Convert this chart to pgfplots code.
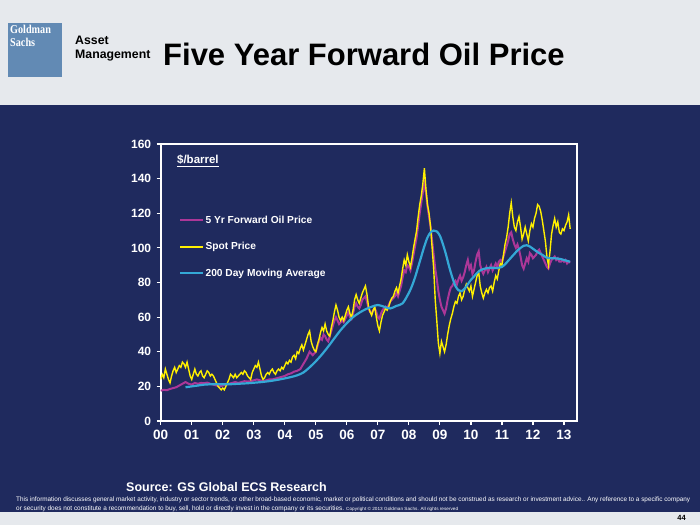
\documentclass[border=0pt]{standalone}
\usepackage{pgfplots}
\pgfplotsset{compat=1.18}
\usepackage{fontspec}
\setmainfont{Liberation Sans}
\newfontfamily\seriffont{Liberation Serif}
\definecolor{navy}{RGB}{31,42,94}
\definecolor{headgray}{RGB}{230,233,237}
\definecolor{gsblue}{RGB}{98,138,180}
\definecolor{spotyellow}{RGB}{255,240,0}
\definecolor{fwdmagenta}{RGB}{172,55,152}
\definecolor{macyan}{RGB}{52,168,214}

\begin{document}
\begin{tikzpicture}[x=1pt,y=1pt]
\path[use as bounding box] (0,0) rectangle (700,525);
\fill[headgray] (0,0) rectangle (700,525);
\fill[navy] (0,13) rectangle (700,420);
% logo and title
\fill[gsblue] (8,448) rectangle (62,502);
\node[anchor=base west, inner sep=0pt, text=white, font=\seriffont\bfseries\fontsize{12}{12}\selectfont] at (10,491.5) {\scalebox{0.85}[1]{Goldman}};
\node[anchor=base west, inner sep=0pt, text=white, font=\seriffont\bfseries\fontsize{12}{12}\selectfont] at (10,478.5) {\scalebox{0.85}[1]{Sachs}};
\node[anchor=base west, inner sep=0pt, font=\bfseries\fontsize{12.3}{13}\selectfont] at (75,480) {Asset};
\node[anchor=base west, inner sep=0pt, font=\bfseries\fontsize{12.3}{13}\selectfont] at (75,466) {Management};
\node[anchor=base west, inner sep=0pt, font=\bfseries\fontsize{31}{32}\selectfont] at (163,459) {Five Year Forward Oil Price};

\begin{axis}[
    at={(160.7pt,104pt)}, anchor=south west, scale only axis,
    width=416.3pt, height=277pt,
    xmin=0, xmax=13.42, ymin=0, ymax=160,
    xtick={0,1,...,13},
    xticklabels={00,01,02,03,04,05,06,07,08,09,10,11,12,13},
    ytick={0,20,...,160},
    axis line style={white, line width=2pt},
    tick style={white, line width=1.2pt},
    tick align=outside, major tick length=4pt, tick pos=left,
    ticklabel style={text=white},
    x tick label style={font=\bfseries\fontsize{13.5}{14}\selectfont, yshift=-2pt},
    y tick label style={font=\bfseries\fontsize{12}{13}\selectfont, xshift=-2pt},
    /pgf/number format/assume math mode=true,
    legend image code/.code={\draw[#1] (0pt,0pt) -- (23pt,0pt);},
    legend cell align=left,
    legend style={at={(0.044,0.745)}, anchor=north west, draw=none, fill=none,
        text=white, font=\bfseries\fontsize{10.2}{12}\selectfont,
        row sep=15.5pt, inner sep=0pt, nodes={inner sep=1pt}},
]
\addlegendimage{fwdmagenta, line width=2.2pt}
\addlegendimage{spotyellow, line width=2pt}
\addlegendimage{macyan, line width=2.4pt}

% 5 Yr forward price
\addplot[fwdmagenta, line width=2pt, forget plot] coordinates {
(0.0,17.5)(0.1,18)(0.2,17.8)(0.3,18.5)(0.4,19)(0.5,19.5)(0.6,20.5)(0.7,21.5)(0.8,22.5)(0.9,21.5)
(1.0,21)(1.1,22)(1.2,21.5)(1.3,22)(1.4,21.8)(1.5,22.2)(1.6,21.5)(1.7,21)(1.8,20.5)(1.9,20)
(2.0,20.5)(2.1,21)(2.2,21.5)(2.3,22)(2.4,22.5)(2.5,22)(2.6,22.5)(2.7,23)(2.8,22.8)(2.9,23)
(3.0,23.5)(3.1,24)(3.2,23.5)(3.3,23)(3.4,23.5)(3.5,24)(3.6,24)(3.7,24.5)(3.8,25)(3.9,25.5)
(4.0,26)(4.1,27)(4.2,27.5)(4.3,28.5)(4.4,29)(4.5,30)(4.6,33)(4.7,36)(4.8,40)(4.9,38)
(5.0,40)(5.05,43)(5.1,46)(5.15,48)(5.2,47)(5.25,50)(5.3,49)(5.35,47)(5.4,46)(5.45,49)
(5.5,52)(5.55,55)(5.6,58)(5.65,60)(5.7,58)(5.75,56)(5.8,57)(5.85,58)(5.9,57)(5.95,59)
(6.0,61)(6.05,63)(6.1,60)(6.15,59)(6.2,62)(6.25,66)(6.3,68)(6.35,66)(6.4,65)(6.45,67)
(6.5,70)(6.55,71)(6.6,72)(6.65,69)(6.7,65)(6.75,63)(6.8,62)(6.85,64)(6.9,65)(6.95,63)
(7.0,60)(7.05,59)(7.1,62)(7.15,64)(7.2,65)(7.25,66)(7.3,65)(7.35,67)(7.4,69)(7.45,70)
(7.5,71)(7.55,72)(7.6,74)(7.65,72)(7.7,75)(7.75,78)(7.8,83)(7.85,87)(7.9,86)(7.95,90)
(8.0,89)(8.05,87)(8.1,91)(8.15,96)(8.2,101)(8.25,106)(8.3,113)(8.35,120)(8.4,126)(8.45,132)
(8.5,137)(8.55,132)(8.6,124)(8.65,118)(8.7,112)(8.75,104)(8.8,96)(8.85,88)(8.9,82)(8.95,75)
(9.0,70)(9.05,66)(9.1,64)(9.15,62)(9.2,65)(9.25,70)(9.3,74)(9.35,77)(9.4,78)(9.45,80)
(9.5,81)(9.55,79)(9.6,82)(9.65,84)(9.7,81)(9.75,83)(9.8,86)(9.85,90)(9.9,93)(9.95,88)
(10.0,90)(10.05,85)(10.1,87)(10.15,92)(10.2,96)(10.25,98)(10.3,90)(10.35,87)(10.4,85)(10.45,87)
(10.5,89)(10.55,86)(10.6,88)(10.65,90)(10.7,87)(10.75,89)(10.8,91)(10.85,89)(10.9,92)(10.95,93)
(11.0,92)(11.05,95)(11.1,98)(11.15,101)(11.2,104)(11.25,108)(11.3,109)(11.35,105)(11.4,102)(11.45,100)
(11.5,102)(11.55,99)(11.6,95)(11.65,90)(11.7,88)(11.75,91)(11.8,94)(11.85,92)(11.9,97)(11.95,96)
(12.0,94)(12.05,95)(12.1,96)(12.15,98)(12.2,99)(12.25,97)(12.3,95)(12.35,93)(12.4,91)(12.45,89)
(12.5,88)(12.55,91)(12.6,93)(12.65,94)(12.7,95)(12.75,93)(12.8,94)(12.85,92)(12.9,92)(12.95,93)
(13.0,92)(13.05,93)(13.1,91)(13.15,92)(13.2,91.5)
};

% spot price
\addplot[spotyellow, line width=1.4pt, forget plot] coordinates {
(0.00,24)(0.05,27)(0.10,25)(0.15,30)(0.20,27)(0.25,24)(0.30,22)(0.35,26)(0.40,29)(0.45,31)
(0.50,28)(0.55,30)(0.60,32)(0.65,31)(0.70,34)(0.75,33)(0.80,31)(0.85,34)(0.90,30)(0.95,26)
(1.00,24)(1.05,27)(1.10,30)(1.15,27)(1.20,26)(1.25,28)(1.30,29)(1.35,26)(1.40,25)(1.45,27)
(1.50,29)(1.55,28)(1.60,26)(1.65,27)(1.70,26)(1.75,24)(1.80,22)(1.85,20)(1.90,19)(1.95,18)
(2.00,19)(2.05,18)(2.10,20)(2.15,22)(2.20,24)(2.25,27)(2.30,26)(2.35,25)(2.40,27)(2.45,25)
(2.50,26)(2.55,27)(2.60,28)(2.65,27)(2.70,29)(2.75,28)(2.80,26)(2.85,25)(2.90,24)(2.95,28)
(3.00,30)(3.05,32)(3.10,31)(3.15,34)(3.20,30)(3.25,26)(3.30,24)(3.35,25)(3.40,27)(3.45,28)
(3.50,27)(3.55,29)(3.60,30)(3.65,28)(3.70,27)(3.75,29)(3.80,30)(3.85,29)(3.90,31)(3.95,30)
(4.00,32)(4.05,34)(4.10,33)(4.15,35)(4.20,34)(4.25,37)(4.30,38)(4.35,36)(4.40,40)(4.45,39)
(4.50,42)(4.55,44)(4.60,41)(4.65,44)(4.70,47)(4.75,50)(4.80,52)(4.85,46)(4.90,43)(4.95,41)
(5.00,40)(5.05,44)(5.10,47)(5.15,51)(5.20,54)(5.25,52)(5.30,56)(5.35,52)(5.40,50)(5.45,49)
(5.50,54)(5.55,58)(5.60,63)(5.65,67)(5.70,64)(5.75,60)(5.80,58)(5.85,60)(5.90,58)(5.95,61)
(6.00,64)(6.05,66)(6.10,62)(6.15,60)(6.20,64)(6.25,70)(6.30,73)(6.35,70)(6.40,68)(6.45,71)
(6.50,74)(6.55,76)(6.60,78)(6.65,73)(6.70,66)(6.75,63)(6.80,61)(6.85,64)(6.90,66)(6.95,60)
(7.00,55)(7.05,52)(7.10,57)(7.15,61)(7.20,63)(7.25,65)(7.30,64)(7.35,66)(7.40,69)(7.45,71)
(7.50,72)(7.55,75)(7.60,77)(7.65,74)(7.70,78)(7.75,82)(7.80,88)(7.85,93)(7.90,90)(7.95,96)
(8.00,92)(8.05,89)(8.10,94)(8.15,100)(8.20,105)(8.25,110)(8.30,118)(8.35,125)(8.40,130)(8.45,137)
(8.50,146)(8.55,134)(8.60,125)(8.65,120)(8.70,112)(8.75,100)(8.80,88)(8.85,70)(8.90,58)(8.95,45)
(9.00,39)(9.05,46)(9.10,43)(9.15,40)(9.20,44)(9.25,50)(9.30,55)(9.35,59)(9.40,62)(9.45,66)
(9.50,69)(9.55,68)(9.60,72)(9.65,74)(9.70,70)(9.75,72)(9.80,76)(9.85,79)(9.90,77)(9.95,75)
(10.00,78)(10.05,72)(10.10,76)(10.15,80)(10.20,84)(10.25,86)(10.30,78)(10.35,74)(10.40,71)(10.45,74)
(10.50,76)(10.55,74)(10.60,77)(10.65,78)(10.70,75)(10.75,80)(10.80,84)(10.85,82)(10.90,87)(10.95,91)
(11.00,90)(11.05,96)(11.10,102)(11.15,106)(11.20,112)(11.25,120)(11.30,126)(11.35,118)(11.40,112)(11.45,110)
(11.50,115)(11.55,118)(11.60,112)(11.65,105)(11.70,108)(11.75,112)(11.80,108)(11.85,104)(11.90,110)(11.95,114)
(12.00,112)(12.05,117)(12.10,120)(12.15,125)(12.20,124)(12.25,121)(12.30,116)(12.35,110)(12.40,104)(12.45,95)
(12.50,90)(12.55,98)(12.60,108)(12.65,113)(12.70,117)(12.75,112)(12.80,115)(12.85,109)(12.90,108)(12.95,111)
(13.00,110)(13.05,113)(13.10,115)(13.15,119)(13.20,111)
};

% 200 day moving average
\addplot[macyan, line width=2.2pt, smooth, forget plot] coordinates {
(0.8,19.5)(1.0,20)(1.2,20.5)(1.4,21)(1.6,21.2)(1.8,21.3)(2.0,21.2)(2.2,21.2)(2.4,21.4)(2.6,21.6)
(2.8,21.8)(3.0,22.1)(3.2,22.4)(3.4,22.8)(3.6,23.3)(3.8,23.9)(4.0,24.6)(4.2,25.4)(4.4,26.4)(4.6,28)
(4.8,31)(5.0,34.5)(5.2,38.5)(5.4,43)(5.6,47.8)(5.8,52.5)(6.0,56.5)(6.2,60)(6.4,62.5)(6.6,64.5)
(6.8,66)(7.0,67)(7.2,66)(7.4,65)(7.6,66.5)(7.8,68)(8.0,74)(8.1,78)(8.2,83)(8.3,89)
(8.4,95)(8.5,101)(8.6,106)(8.7,109)(8.8,110)(8.9,109.5)(9.0,107)(9.1,102)(9.2,96)(9.3,89)
(9.4,83)(9.5,78)(9.6,75.5)(9.7,75)(9.8,76.5)(9.9,79)(10.0,81.5)(10.1,83.5)(10.2,85.5)(10.3,87)
(10.4,87.8)(10.5,88.2)(10.6,88.5)(10.7,88.5)(10.8,88.3)(10.9,88.5)(11.0,89)(11.1,90.5)(11.2,92.5)(11.3,94.5)
(11.4,96.5)(11.5,98.5)(11.6,100)(11.7,101.2)(11.8,101.5)(11.9,100.8)(12.0,99.5)(12.1,98.2)(12.2,97)(12.3,96)
(12.4,94.8)(12.5,94)(12.6,94)(12.7,94)(12.8,93.8)(12.9,93.5)(13.0,93)(13.1,92.5)(13.2,92)
};
\legend{5 Yr Forward Oil Price, Spot Price, 200 Day Moving Average}
\node[anchor=west, inner sep=0pt, text=white, font=\bfseries\fontsize{11.5}{12}\selectfont]
    at (rel axis cs:0.039,0.939) {\underline{\$/barrel}};
\end{axis}

% footer
\node[anchor=base west, inner sep=0pt, text=white, font=\bfseries\fontsize{12.5}{13}\selectfont] at (126,34) {Source: GS Global ECS Research};
\node[anchor=base west, inner sep=0pt, text=white] at (16,24) {\resizebox{674pt}{\height}{\fontsize{6.5}{7}\selectfont This information discusses general market activity, industry or sector trends, or other broad-based economic, market or political conditions and should not be construed as research or investment advice.. Any reference to a specific company}};
\node[anchor=base west, inner sep=0pt, text=white] at (16,15) {\resizebox{328pt}{\height}{\fontsize{6.5}{7}\selectfont or security does not constitute a recommendation to buy, sell, hold or directly invest in the company or its securities.}};
\node[anchor=base west, inner sep=0pt, text=white] at (346,15) {\resizebox{112pt}{\height}{\fontsize{4.5}{5}\selectfont Copyright \textcopyright{} 2013 Goldman Sachs. All rights reserved}};
\node[anchor=base east, inner sep=0pt, font=\bfseries\fontsize{7.5}{8}\selectfont] at (686,5) {44};
\end{tikzpicture}
\end{document}
